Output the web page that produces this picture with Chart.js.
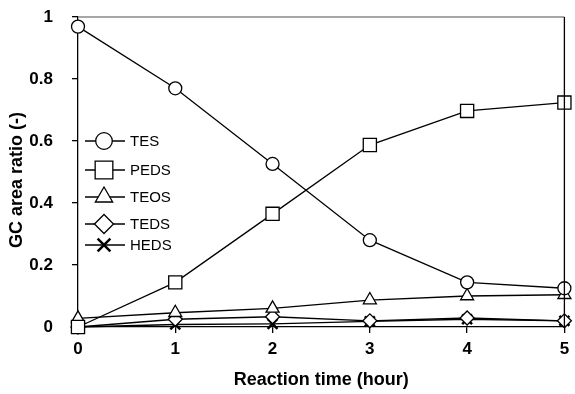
<!DOCTYPE html>
<html>
<head>
<meta charset="utf-8">
<script src="https://cdn.jsdelivr.net/npm/chart.js@4/dist/chart.umd.min.js"></script>
<style>
  html, body { margin: 0; padding: 0; background: #fff; }
  #wrap { width: 575px; height: 394px; position: relative; }
</style>
</head>
<body>
<div id="wrap"><canvas id="chart"></canvas></div>
<script>
var hours = [0, 1, 2, 3, 4, 5];
var series_names = ['TES', 'PEDS', 'TEOS', 'TEDS', 'HEDS'];
var tes  = [0.969, 0.770, 0.526, 0.280, 0.144, 0.125];
var peds = [0.000, 0.144, 0.365, 0.587, 0.697, 0.724];
var teos = [0.028, 0.046, 0.060, 0.087, 0.100, 0.104];
var teds = [0.000, 0.025, 0.033, 0.020, 0.029, 0.020];
var heds = [0.000, 0.008, 0.010, 0.018, 0.025, 0.020];
var y_ticks = [0, 0.2, 0.4, 0.6, 0.8, 1];
var y_title = 'GC area ratio (-)';

var font_family = '"Liberation Sans", Arial, sans-serif';

function to_points(values) {
    return hours.map(function (h, i) { return {x: h, y: values[i]}; });
}

var styles = [
    {pointStyle: 'circle',   radius: 6.5, legendRadius: 8.3, borderWidth: 1.3},
    {pointStyle: 'rect',     radius: 9.3, legendRadius: 12.5, borderWidth: 1.3},
    {pointStyle: 'triangle', radius: 7.5, legendRadius: 10,  borderWidth: 1.3},
    {pointStyle: 'rectRot',  radius: 7,   legendRadius: 9.5, borderWidth: 1.3},
    {pointStyle: 'crossRot', radius: 7,   legendRadius: 9,   borderWidth: 2.5}
];
var all_values = [tes, peds, teos, teds, heds];

var datasets = all_values.map(function (vals, i) {
    return {
        label: series_names[i],
        data: to_points(vals),
        borderColor: '#000',
        borderWidth: 1.3,
        backgroundColor: '#fff',
        pointStyle: styles[i].pointStyle,
        pointRadius: styles[i].radius,
        pointBorderWidth: styles[i].borderWidth,
        pointBackgroundColor: '#fff',
        pointBorderColor: '#000',
        pointHoverRadius: styles[i].radius,
        tension: 0,
        clip: false
    };
});

// legend drawn inside the plot, line through the marker like the original
var legend_rows = [141, 170, 197, 224, 245];
var inside_legend = {
    id: 'inside_legend',
    afterDraw: function (chart) {
        var ctx = chart.ctx;
        var area = chart.chartArea;
        ctx.save();
        // frame: grey top line, black right line
        ctx.lineWidth = 1.3;
        ctx.strokeStyle = '#888';
        ctx.beginPath();
        ctx.moveTo(area.left, area.top);
        ctx.lineTo(area.right, area.top);
        ctx.stroke();
        ctx.strokeStyle = '#000';
        ctx.beginPath();
        ctx.moveTo(area.right, area.top);
        ctx.lineTo(area.right, area.bottom);
        ctx.stroke();

        // y title sits a bit below the middle of the axis
        ctx.save();
        ctx.translate(17, 180);
        ctx.rotate(-Math.PI / 2);
        ctx.fillStyle = '#000';
        ctx.font = 'bold 18px ' + font_family;
        ctx.textAlign = 'center';
        ctx.textBaseline = 'middle';
        ctx.fillText(y_title, 0, 0);
        ctx.restore();

        for (var i = 0; i < series_names.length; i++) {
            var y = legend_rows[i];
            ctx.strokeStyle = '#000';
            ctx.lineWidth = 1.3;
            ctx.beginPath();
            ctx.moveTo(85, y);
            ctx.lineTo(125, y);
            ctx.stroke();
            ctx.fillStyle = '#fff';
            ctx.lineWidth = styles[i].borderWidth;
            Chart.helpers.drawPoint(ctx, {
                pointStyle: styles[i].pointStyle,
                radius: styles[i].legendRadius,
                rotation: 0,
                borderWidth: styles[i].borderWidth
            }, 104, y);
            ctx.fillStyle = '#000';
            ctx.font = '15px ' + font_family;
            ctx.textAlign = 'left';
            ctx.textBaseline = 'middle';
            ctx.fillText(series_names[i], 130, y + 1);
        }
        ctx.restore();
    }
};

new Chart(document.getElementById('chart'), {
    type: 'line',
    data: {datasets: datasets},
    options: {
        responsive: true,
        maintainAspectRatio: false,
        animation: false,
        layout: {padding: {top: 17, right: 7, left: 0, bottom: 0}},
        plugins: {
            legend: {display: false},
            tooltip: {enabled: false}
        },
        scales: {
            x: {
                type: 'linear',
                min: 0,
                max: 5,
                afterFit: function (scale) {
                    scale.height = 67;
                    scale.paddingLeft = 0;
                    scale.paddingRight = 0;
                },
                ticks: {
                    stepSize: 1,
                    color: '#000',
                    padding: 6,
                    font: {family: font_family, size: 17, weight: 'bold'}
                },
                grid: {drawOnChartArea: false, color: '#000', tickLength: 6, lineWidth: 1.3},
                border: {color: '#000', width: 1.3},
                title: {
                    display: true,
                    text: 'Reaction time (hour)',
                    color: '#000',
                    padding: {top: 0, bottom: 3},
                    font: {family: font_family, size: 18, weight: 'bold'}
                }
            },
            y: {
                min: 0,
                max: 1,
                afterFit: function (scale) {
                    scale.width = 78;
                    scale.paddingTop = 0;
                    scale.paddingBottom = 0;
                },
                afterBuildTicks: function (scale) {
                    scale.ticks = y_ticks.map(function (v) { return {value: v}; });
                },
                ticks: {
                    color: '#000',
                    padding: 19,
                    font: {family: font_family, size: 17, weight: 'bold'},
                    callback: function (val) { return String(Math.round(val * 10) / 10); }
                },
                grid: {drawOnChartArea: false, color: '#000', tickLength: 6, lineWidth: 1.3},
                border: {color: '#000', width: 1.3}
            }
        }
    },
    plugins: [inside_legend]
});
</script>
</body>
</html>
